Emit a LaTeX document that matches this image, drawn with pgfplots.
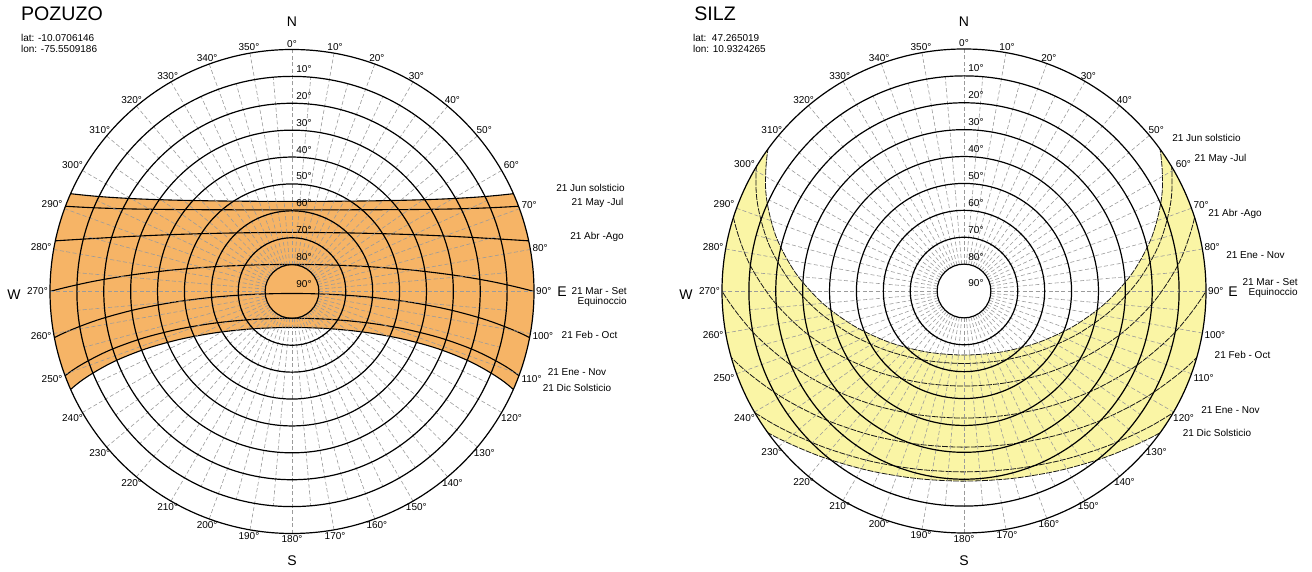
\documentclass[border=0pt]{standalone}
\usepackage{fontspec}
\setmainfont{Liberation Sans}
\usepackage{pgfplots}
\usepackage{pgfplotstable}
\pgfplotsset{compat=1.18}

\definecolor{pozband}{RGB}{246,180,102}
\definecolor{silzband}{RGB}{250,245,165}
\definecolor{gridgray}{RGB}{155,155,155}

% Sun positions: az = azimuth from north (deg, clockwise), z = zenith distance (deg)
% ---------------- POZUZO (lat -10.07) ----------------
\pgfplotstableread{
az z
68.44 107.66
66.88 93.99
63.95 80.55
59.30 67.54
52.09 55.30
40.84 44.54
23.48 36.58
0 33.51
336.52 36.58
319.16 44.54
307.91 55.30
300.70 67.54
296.05 80.55
293.12 93.99
291.56 107.66
}\pozJun
\pgfplotstableread{
az z
71.73 107.44
70.00 93.48
67.02 79.73
62.46 66.36
55.40 53.68
44.12 42.35
25.90 33.76
0 30.37
334.10 33.76
315.88 42.35
304.60 53.68
297.54 66.36
292.98 79.73
290.00 93.48
288.27 107.44
}\pozMay
\pgfplotstableread{
az z
80.47 106.58
78.28 92.07
75.36 77.68
71.20 63.53
64.90 49.82
54.33 37.03
34.51 26.54
0 21.97
325.49 26.54
305.67 37.03
295.10 49.82
288.80 63.53
284.64 77.68
281.72 92.07
279.53 106.58
}\pozApr
\pgfplotstableread{
az z
95.76 119.49
92.68 104.76
90 90
87.32 75.24
84.24 60.51
80.08 45.88
73.15 31.50
56.87 18.00
0 10.07
303.13 18.00
286.85 31.50
279.92 45.88
275.76 60.51
272.68 75.24
270 90
267.32 104.76
264.24 119.49
}\pozMar
\pgfplotstableread{
az z
107.63 116.80
103.57 102.57
100.64 88.12
98.40 73.56
96.61 58.91
95.19 44.22
94.16 29.50
94.18 14.77
180 0.73
265.82 14.77
265.84 29.50
264.81 44.22
263.39 58.91
261.60 73.56
259.36 88.12
256.43 102.57
252.37 116.80
}\pozFeb
\pgfplotstableread{
az z
117.24 113.75
112.68 100.35
109.71 86.57
107.96 72.59
107.37 58.51
108.36 44.44
112.48 30.56
126.21 17.54
180 9.93
233.79 17.54
247.52 30.56
251.64 44.44
252.63 58.51
252.04 72.59
250.29 86.57
247.32 100.35
242.76 113.75
}\pozJan
\pgfplotstableread{
az z
120.70 112.47
116.05 99.45
113.11 86.01
111.56 72.34
111.40 58.58
113.21 44.90
118.85 31.58
134.91 19.59
180 13.37
225.09 19.59
241.15 31.58
246.79 44.90
248.60 58.58
248.44 72.34
246.89 86.01
243.95 99.45
239.30 112.47
}\pozDec
% band between the June and December paths, closed far below the horizon
\pgfplotstableread{
az z
68.44 107.66
66.88 93.99
63.95 80.55
59.30 67.54
52.09 55.30
40.84 44.54
23.48 36.58
0 33.51
336.52 36.58
319.16 44.54
307.91 55.30
300.70 67.54
296.05 80.55
293.12 93.99
291.56 107.66
292 150
270 150
245 150
239.30 112.47
243.95 99.45
246.89 86.01
248.44 72.34
248.60 58.58
246.79 44.90
241.15 31.58
225.09 19.59
180 13.37
134.91 19.59
118.85 31.58
113.21 44.90
111.40 58.58
111.56 72.34
113.11 86.01
116.05 99.45
120.70 112.47
115 150
90 150
68 150
}\pozBand

% ---------------- SILZ (lat 47.27) ----------------
\pgfplotstableread{
az z
28.26 104.30
41.00 98.51
52.63 91.09
63.37 82.47
73.61 73.01
83.85 63.04
94.83 52.88
107.67 42.91
124.37 33.76
148.07 26.68
180 23.83
211.93 26.68
235.63 33.76
252.33 42.91
265.17 52.88
276.15 63.04
286.39 73.01
296.63 82.47
307.37 91.09
319.00 98.51
331.74 104.30
}\silJun
\pgfplotstableread{
az z
29.41 107.24
42.55 101.25
54.48 93.63
65.46 84.83
75.91 75.24
86.39 65.19
97.65 55.03
110.79 45.18
127.61 36.29
150.56 29.58
180 26.97
209.44 29.58
232.39 36.29
249.21 45.18
262.35 55.03
273.61 65.19
284.09 75.24
294.54 84.83
305.52 93.63
317.45 101.25
330.59 107.24
}\silMay
\pgfplotstableread{
az z
46.87 108.54
59.49 100.40
70.97 91.17
81.86 81.29
92.79 71.14
104.52 61.09
118.03 51.61
134.61 43.41
155.45 37.55
180 35.37
204.55 37.55
225.39 43.41
241.97 51.61
255.48 61.09
267.21 71.14
278.14 81.29
289.03 91.17
300.51 100.40
313.13 108.54
}\silApr
\pgfplotstableread{
az z
67.02 109.83
78.86 100.11
90 90
101.14 79.89
112.98 70.17
126.30 61.33
141.83 54.01
159.96 49.05
180 47.27
200.04 49.05
218.17 54.01
233.70 61.33
247.02 70.17
258.86 79.89
270 90
281.14 100.11
292.98 109.83
}\silMar
\pgfplotstableread{
az z
86.41 108.07
97.38 97.91
108.30 88.00
119.84 78.72
132.54 70.51
146.85 63.92
162.85 59.59
180 58.07
197.15 59.59
213.15 63.92
227.46 70.51
240.16 78.72
251.70 88.00
262.62 97.91
273.59 108.07
}\silFeb
\pgfplotstableread{
az z
103.87 104.55
114.35 94.95
125.35 86.13
137.30 78.48
150.48 72.48
164.86 68.61
180 67.27
195.14 68.61
209.52 72.48
222.70 78.48
234.65 86.13
245.65 94.95
256.13 104.55
}\silJan
\pgfplotstableread{
az z
106.39 106.99
116.63 97.53
127.37 88.91
139.00 81.49
151.74 75.70
165.54 71.99
180 70.71
194.46 71.99
208.26 75.70
221.00 81.49
232.63 88.91
243.37 97.53
253.61 106.99
}\silDec
\pgfplotstableread{
az z
28.26 104.30
41.00 98.51
52.63 91.09
63.37 82.47
73.61 73.01
83.85 63.04
94.83 52.88
107.67 42.91
124.37 33.76
148.07 26.68
180 23.83
211.93 26.68
235.63 33.76
252.33 42.91
265.17 52.88
276.15 63.04
286.39 73.01
296.63 82.47
307.37 91.09
319.00 98.51
331.74 104.30
332 150
300 150
270 150
250 150
253.61 106.99
243.37 97.53
232.63 88.91
221.00 81.49
208.26 75.70
194.46 71.99
180 70.71
165.54 71.99
151.74 75.70
139.00 81.49
127.37 88.91
116.63 97.53
106.39 106.99
110 150
90 150
60 150
28 150
}\silBand

\pgfplotsset{skyaxis/.style={anchor=center, x=1.34444pt, y=1.34444pt,
  xmin=-100, xmax=100, ymin=-100, ymax=100, hide axis, clip=false}}

% polar (azimuth, zenith distance) -> plane of the stereonet
\newcommand\pathplot[2]{\addplot[#1] table[x expr={\thisrow{z}*sin(\thisrow{az})},
  y expr={\thisrow{z}*cos(\thisrow{az})}] {#2};}

\newcommand\lbl{\fontsize{5}{6}\selectfont}
\newcommand\dirf{\fontsize{7}{8}\selectfont}
\newcommand\ttl{\fontsize{9.8}{11}\selectfont}

\tikzset{
  gridline/.style={gridgray, line width=0.3pt, dash pattern=on 2pt off 1.2pt},
  ringline/.style={black, line width=0.6pt},
  pozline/.style={black, line width=0.55pt, smooth},
  silline/.style={black!90, line width=0.4pt, smooth, dash pattern=on 3pt off 0.6pt},
}

% rings, radial lines and degree labels of one diagram
\newcommand\skygrid{%
  \foreach \a in {0,10,...,350} \draw[gridline] (90-\a:13.444pt) -- (90-\a:121pt);
  \foreach \a in {5,15,...,355} \draw[gridline] (90-\a:13.444pt) -- (90-\a:107.56pt);
  \foreach \r in {1,...,9} \draw[ringline] (0,0) circle[radius={\r*13.4444pt}];
  \foreach \a in {0,10,...,350}{%
    \pgfmathtruncatemacro\an{mod(630-\a,360)}%
    \node[anchor=\an, inner sep=0.9pt, font=\lbl] at (90-\a:121pt) {\a°};}
  \foreach \k in {10,20,...,90}
    \node[anchor=base west, inner sep=0pt, font=\lbl] at (2pt,{(90-\k)*1.34444pt+2pt}) {\k°};
}

\begin{document}
\begin{tikzpicture}
\useasboundingbox (0,0) rectangle (656pt,286pt);

% ======================= POZUZO =======================
\begin{scope}
\clip (146pt,140.25pt) circle[radius=121pt];
\begin{axis}[skyaxis, at={(146pt,140.25pt)}]
\pathplot{draw=none, fill=pozband, smooth}{\pozBand}
\pathplot{pozline}{\pozJun}
\pathplot{pozline}{\pozMay}
\pathplot{pozline}{\pozApr}
\pathplot{pozline}{\pozMar}
\pathplot{pozline}{\pozFeb}
\pathplot{pozline}{\pozJan}
\pathplot{pozline}{\pozDec}
\end{axis}
\end{scope}
\begin{scope}[shift={(146pt,140.25pt)}]
\skygrid
\node[font=\ttl, anchor=base west, inner sep=0pt] at (-135.65pt,135.25pt) {POZUZO};
\node[font=\lbl, anchor=base west, inner sep=0pt] at (-135.65pt,124.9pt) {lat: -10.0706146};
\node[font=\lbl, anchor=base west, inner sep=0pt] at (-135.65pt,119.25pt) {lon: -75.5509186};
\node[font=\dirf] at (0,134.75pt) {N};
\node[font=\dirf] at (0,-134.75pt) {S};
\node[font=\dirf] at (135pt,-0.25pt) {E};
\node[font=\dirf] at (-139pt,-1.75pt) {W};
\begin{scope}[every node/.style={font=\lbl, inner sep=0pt, anchor=base}]
\node at (149.25pt,49.95pt) {21 Jun solsticio};
\node at (152.75pt,42.95pt) {21 May -Jul};
\node at (152.5pt,25.95pt) {21 Abr -Ago};
\node[anchor=base east] at (167.5pt,-1.55pt) {21 Mar - Set};
\node[anchor=base east] at (167.5pt,-6.55pt) {Equinoccio};
\node at (148.75pt,-23.55pt) {21 Feb - Oct};
\node at (142.5pt,-42.05pt) {21 Ene - Nov};
\node at (142.5pt,-50.05pt) {21 Dic Solsticio};
\end{scope}
\end{scope}

% ======================= SILZ =======================
\begin{scope}
\clip (482pt,140.5pt) circle[radius=121pt];
\begin{axis}[skyaxis, at={(482pt,140.5pt)}]
\pathplot{draw=none, fill=silzband, smooth}{\silBand}
\pathplot{silline}{\silJun}
\pathplot{silline}{\silMay}
\pathplot{silline}{\silApr}
\pathplot{silline}{\silMar}
\pathplot{silline}{\silFeb}
\pathplot{silline}{\silJan}
\pathplot{silline}{\silDec}
\end{axis}
\end{scope}
\begin{scope}[shift={(482pt,140.5pt)}]
\skygrid
\node[font=\ttl, anchor=base west, inner sep=0pt] at (-135pt,135pt) {SILZ};
\node[font=\lbl, anchor=base west, inner sep=0pt] at (-135.65pt,124.9pt) {lat:\ \ 47.265019};
\node[font=\lbl, anchor=base west, inner sep=0pt] at (-135.65pt,119.25pt) {lon: 10.9324265};
\node[font=\dirf] at (0,134.5pt) {N};
\node[font=\dirf] at (0,-135pt) {S};
\node[font=\dirf] at (134.5pt,-0.3pt) {E};
\node[font=\dirf] at (-139pt,-1.75pt) {W};
\begin{scope}[every node/.style={font=\lbl, inner sep=0pt, anchor=base}]
\node at (121.25pt,74.7pt) {21 Jun solsticio};
\node at (128.25pt,64.7pt) {21 May -Jul};
\node at (135.5pt,37.2pt) {21 Abr -Ago};
\node at (145.75pt,16.2pt) {21 Ene - Nov};
\node[anchor=base east] at (167pt,2.7pt) {21 Mar - Set};
\node[anchor=base east] at (167pt,-2.3pt) {Equinoccio};
\node at (139.25pt,-33.8pt) {21 Feb - Oct};
\node at (133.25pt,-61.3pt) {21 Ene - Nov};
\node at (126.5pt,-72.8pt) {21 Dic Solsticio};
\end{scope}
\end{scope}
\end{tikzpicture}
\end{document}
